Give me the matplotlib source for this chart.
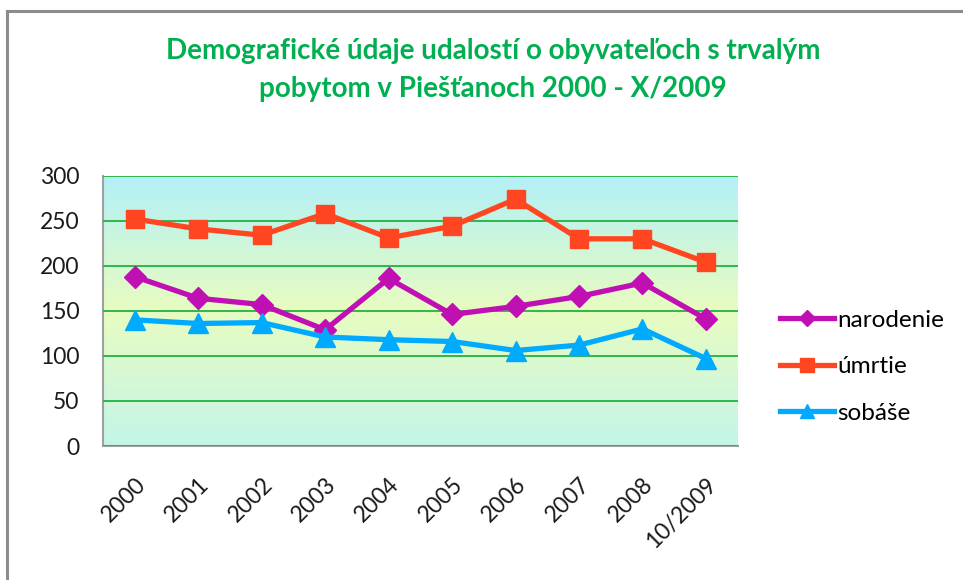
import matplotlib.pyplot as plt
import numpy as np
from matplotlib.colors import LinearSegmentedColormap
from matplotlib.lines import Line2D

years = ["2000", "2001", "2002", "2003", "2004", "2005", "2006", "2007", "2008", "10/2009"]
narodenie = [188, 164, 157, 129, 186, 146, 155, 166, 181, 141]
umrtie = [252, 241, 234, 258, 231, 244, 274, 230, 230, 204]
sobase = [140, 136, 137, 121, 118, 116, 106, 112, 130, 97]

title = "Demografické údaje udalostí o obyvateľoch s trvalým\npobytom v Piešťanoch 2000 - X/2009"

plt.rcParams["font.family"] = ["Lato", "DejaVu Sans"]

fig = plt.figure(figsize=(9.63, 5.8), dpi=100)
ax = fig.add_axes([0.107, 0.231, 0.659, 0.466])

# outer frame (top and left only visible)
fig.add_artist(Line2D([0.007, 1.0], [0.981, 0.981], color="#8c8c8c", lw=2.2))
fig.add_artist(Line2D([0.007, 0.007], [0.0, 0.981], color="#8c8c8c", lw=2.2))

# gradient plot background
bg = LinearSegmentedColormap.from_list(
    "bg", [(0.0, "#c3f5e8"), (0.5, "#e8fcc0"), (1.0, "#b2f0f8")])
grad = np.linspace(0, 1, 256).reshape(-1, 1)
ax.imshow(grad, cmap=bg, aspect="auto", extent=(-0.5, 9.5, 0, 300),
          origin="lower", zorder=0)

x = np.arange(len(years))
ax.plot(x, narodenie, color="#c010b4", lw=3.8, marker="D", ms=11,
        label="narodenie", zorder=3)
ax.plot(x, umrtie, color="#ff4620", lw=3.8, marker="s", ms=13.5,
        label="úmrtie", zorder=3)
ax.plot(x, sobase, color="#00aaff", lw=3.8, marker="^", ms=14,
        label="sobáše", zorder=3)

ax.set_xlim(-0.5, 9.5)
ax.set_ylim(0, 300)
ax.set_yticks(range(0, 301, 50))
ax.set_xticks(x)
ax.set_xticklabels(years, rotation=45, ha="right", rotation_mode="anchor")
ax.yaxis.grid(True, color="#2db84d", lw=1.4, zorder=1)
ax.set_axisbelow(False)
ax.tick_params(axis="both", length=0, labelsize=16.5, colors="#1a1a1a")
ax.tick_params(axis="y", pad=17)
ax.tick_params(axis="x", pad=20)
for side in ("top", "right"):
    ax.spines[side].set_visible(False)
for side in ("left", "bottom"):
    ax.spines[side].set_color("#a0a0a0")
    ax.spines[side].set_linewidth(1.5)

fig.text(0.512, 0.879, title, ha="center", va="center", color="#00b050",
         fontsize=20, fontweight="bold", linespacing=1.55)

leg = ax.legend(loc="center left", bbox_to_anchor=(1.033, 0.293), frameon=False,
                fontsize=17.5, handlelength=2.2, labelspacing=1.05,
                handletextpad=0.15, markerscale=0.75)

fig.savefig("out.png", dpi=100, facecolor="white")
